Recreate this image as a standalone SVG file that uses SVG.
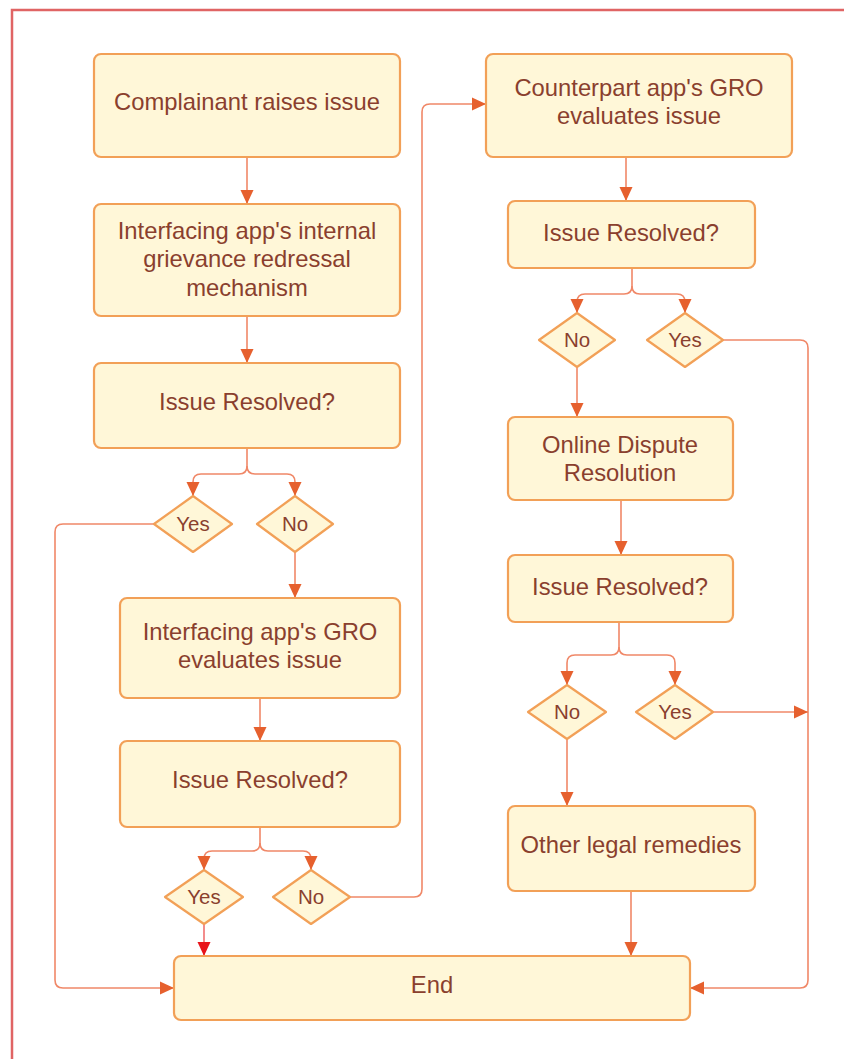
<svg xmlns="http://www.w3.org/2000/svg" width="844" height="1059" viewBox="0 0 844 1059">
<defs>
<marker id="ah" markerUnits="userSpaceOnUse" markerWidth="16" markerHeight="16" refX="14" refY="8" orient="auto"><path d="M0,1.5 L14,8 L0,14.5 Z" fill="#e6602e"/></marker>
<marker id="ahr" markerUnits="userSpaceOnUse" markerWidth="16" markerHeight="16" refX="14" refY="8" orient="auto"><path d="M0,1.5 L14,8 L0,14.5 Z" fill="#e8141a"/></marker>
<style>
.box{fill:#fff7d8;stroke:#f2a057;stroke-width:2.2}
.dia{fill:#fff7d8;stroke:#f2a057;stroke-width:2.2;stroke-linejoin:round}
.t{font-family:"Liberation Sans",Arial,sans-serif;font-size:23.8px;fill:#8a3f2e;text-anchor:middle}
.d{font-family:"Liberation Sans",Arial,sans-serif;font-size:20.5px;fill:#8a3f2e;text-anchor:middle}
.c{fill:none;stroke:#f08868;stroke-width:1.6}
</style>
</defs>
<rect width="844" height="1059" fill="#ffffff"/>
<path d="M12,1070 V10 H860" fill="none" stroke="#e06464" stroke-width="2.5"/>

<g id="connectors">
<path class="c" d="M247,157 V204" marker-end="url(#ah)"/>
<path class="c" d="M247,316 V363" marker-end="url(#ah)"/>
<path class="c" d="M247,448 V466 Q247,474 239,474 H201 Q193,474 193,482 V496" marker-end="url(#ah)"/>
<path class="c" d="M247,466 Q247,474 255,474 H287 Q295,474 295,482 V496" marker-end="url(#ah)"/>
<path class="c" d="M154,524 H63 Q55,524 55,532 V980 Q55,988 63,988 H174" marker-end="url(#ah)"/>
<path class="c" d="M295,552 V598" marker-end="url(#ah)"/>
<path class="c" d="M260,698 V741" marker-end="url(#ah)"/>
<path class="c" d="M260,827 V843 Q260,851 252,851 H212 Q204,851 204,859 V870" marker-end="url(#ah)"/>
<path class="c" d="M260,843 Q260,851 268,851 H303 Q311,851 311,859 V870" marker-end="url(#ah)"/>
<path d="M204,924 V956" fill="none" stroke="#f07070" stroke-width="1.6" marker-end="url(#ahr)"/>
<path class="c" d="M350,897 H414 Q422,897 422,889 V112 Q422,104 430,104 H486" marker-end="url(#ah)"/>
<path class="c" d="M626,157 V201" marker-end="url(#ah)"/>
<path class="c" d="M632,268 V286 Q632,294 624,294 H585 Q577,294 577,302 V313" marker-end="url(#ah)"/>
<path class="c" d="M632,286 Q632,294 640,294 H677 Q685,294 685,302 V313" marker-end="url(#ah)"/>
<path class="c" d="M723,340 H800 Q808,340 808,348 V980 Q808,988 800,988 H690" marker-end="url(#ah)"/>
<path class="c" d="M577,367 V417" marker-end="url(#ah)"/>
<path class="c" d="M621,500 V555" marker-end="url(#ah)"/>
<path class="c" d="M619,622 V647 Q619,655 611,655 H575 Q567,655 567,663 V685" marker-end="url(#ah)"/>
<path class="c" d="M619,647 Q619,655 627,655 H667 Q675,655 675,663 V685" marker-end="url(#ah)"/>
<path class="c" d="M713,712 H808" marker-end="url(#ah)"/>
<path class="c" d="M567,739 V806" marker-end="url(#ah)"/>
<path class="c" d="M631,891 V956" marker-end="url(#ah)"/>
</g>

<g id="n1"><rect class="box" x="94" y="54" width="306" height="103" rx="7"/><text class="t" x="247" y="110">Complainant raises issue</text></g>
<g id="n2"><rect class="box" x="94" y="204" width="306" height="112" rx="7"/><text class="t" x="247" y="239">Interfacing app's internal</text><text class="t" x="247" y="267">grievance redressal</text><text class="t" x="247" y="296">mechanism</text></g>
<g id="n3"><rect class="box" x="94" y="363" width="306" height="85" rx="7"/><text class="t" x="247" y="410">Issue Resolved?</text></g>
<g id="d1"><polygon class="dia" points="193,496 232,524 193,552 154,524"/><text class="d" x="193" y="531">Yes</text></g>
<g id="d2"><polygon class="dia" points="295,496 333,524 295,552 257,524"/><text class="d" x="295" y="531">No</text></g>
<g id="n4"><rect class="box" x="120" y="598" width="280" height="100" rx="7"/><text class="t" x="260" y="640">Interfacing app's GRO</text><text class="t" x="260" y="668">evaluates issue</text></g>
<g id="n5"><rect class="box" x="120" y="741" width="280" height="86" rx="7"/><text class="t" x="260" y="788">Issue Resolved?</text></g>
<g id="d3"><polygon class="dia" points="204,870 243,897 204,924 165,897"/><text class="d" x="204" y="904">Yes</text></g>
<g id="d4"><polygon class="dia" points="311,870 350,897 311,924 273,897"/><text class="d" x="311" y="904">No</text></g>
<g id="end"><rect class="box" x="174" y="956" width="516" height="64" rx="7"/><text class="t" x="432" y="993">End</text></g>

<g id="n6"><rect class="box" x="486" y="54" width="306" height="103" rx="7"/><text class="t" x="639" y="96">Counterpart app's GRO</text><text class="t" x="639" y="124">evaluates issue</text></g>
<g id="n7"><rect class="box" x="508" y="201" width="247" height="67" rx="7"/><text class="t" x="631" y="241">Issue Resolved?</text></g>
<g id="d5"><polygon class="dia" points="577,313 615,340 577,367 539,340"/><text class="d" x="577" y="347">No</text></g>
<g id="d6"><polygon class="dia" points="685,313 723,340 685,367 647,340"/><text class="d" x="685" y="347">Yes</text></g>
<g id="n8"><rect class="box" x="508" y="417" width="225" height="83" rx="7"/><text class="t" x="620" y="453">Online Dispute</text><text class="t" x="620" y="481">Resolution</text></g>
<g id="n9"><rect class="box" x="508" y="555" width="225" height="67" rx="7"/><text class="t" x="620" y="595">Issue Resolved?</text></g>
<g id="d7"><polygon class="dia" points="567,685 606,712 567,739 528,712"/><text class="d" x="567" y="719">No</text></g>
<g id="d8"><polygon class="dia" points="675,685 713,712 675,739 636,712"/><text class="d" x="675" y="719">Yes</text></g>
<g id="n10"><rect class="box" x="508" y="806" width="247" height="85" rx="7"/><text class="t" x="631" y="853">Other legal remedies</text></g>
</svg>
